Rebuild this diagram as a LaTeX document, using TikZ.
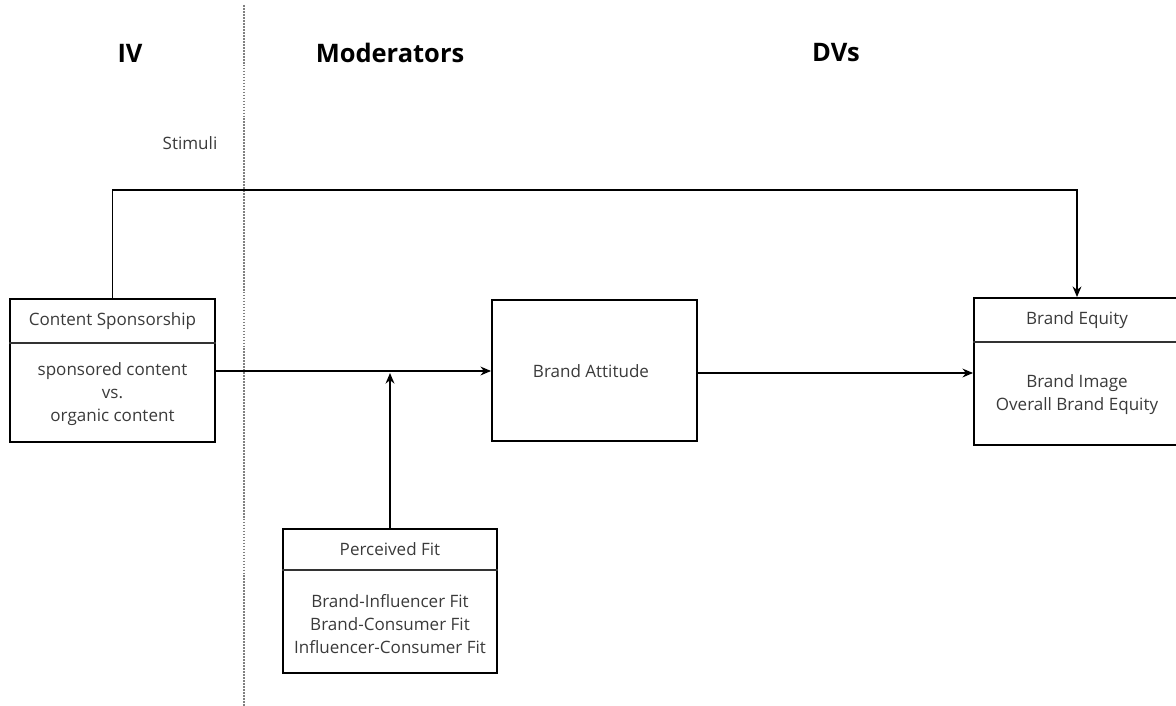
\documentclass[tikz,border=0pt]{standalone}
\usepackage{fontspec}
\setmainfont{Open Sans}
\usetikzlibrary{arrows.meta}
\definecolor{txt}{HTML}{3A3A3A}
\begin{document}
\begin{tikzpicture}[x=0.02cm,y=-0.02cm,
  box/.style={draw,line width=1.1pt,inner sep=0pt},
  divline/.style={line width=1.0pt,draw=black!80},
  body/.style={font=\fontsize{9.7}{13}\selectfont,text=txt,align=center},
  head/.style={font=\fontsize{14.5}{17}\selectfont\bfseries,text=black},
  arr/.style={line width=1.1pt,-{Stealth[length=6pt,width=5pt]}},
  conn/.style={line width=1.1pt}]
\useasboundingbox (0,0) rectangle (1176,706);
% separator
\draw[gray,line width=1pt,dash pattern=on 1pt off 0.7pt] (244,5) -- (244,706);
% headers
\node[head] (iv) at (130,53) {IV};
\node[head] (mod) at (390,53) {Moderators};
\node[head] (dvs) at (836,53) {DVs};
\node[body] (stim) at (190,143) {Stimuli};
% boxes
\node[box,minimum width=4.1cm,minimum height=2.86cm] (cs) at (112.5,370.5) {};
\node[box,minimum width=4.1cm,minimum height=2.82cm] (ba) at (594.5,370.5) {};
\node[box,minimum width=4.12cm,minimum height=2.94cm] (be) at (1077,371.5) {};
\node[box,minimum width=4.28cm,minimum height=2.88cm] (pf) at (390,601) {};
% dividers
\draw[divline] (cs.west |- 0,343) -- (cs.east |- 0,343);
\draw[divline] (be.west |- 0,342) -- (be.east |- 0,342);
\draw[divline] (pf.west |- 0,570) -- (pf.east |- 0,570);
% texts
\node[body] (cst) at (112.5,321) {Content Sponsorship};
\node[body] (csb) at (112.5,394) {sponsored content\\vs.\\organic content};
\node[body] (bat) at (591,371) {Brand Attitude};
\node[body] (bet) at (1077,320) {Brand Equity};
\node[body] (beb) at (1077,394.5) {Brand Image\\Overall Brand Equity};
\node[body] (pft) at (390,549) {Perceived Fit};
\node[body] (pfb) at (390,624) {Brand-Influencer Fit\\Brand-Consumer Fit\\Influencer-Consumer Fit};
% connectors
\coordinate (tl) at (112.5,190);
\coordinate (mtip) at (390,373);
\draw[arr] (cs.east |- 0,371) -- (ba.west |- 0,371);
\draw[arr] (pf.north) -- (mtip);
\draw[arr] (ba.east |- 0,373) -- (be.west |- 0,373);
\draw[arr] (cs.north) -- (tl) -| (be.north);
\end{tikzpicture}
\end{document}
